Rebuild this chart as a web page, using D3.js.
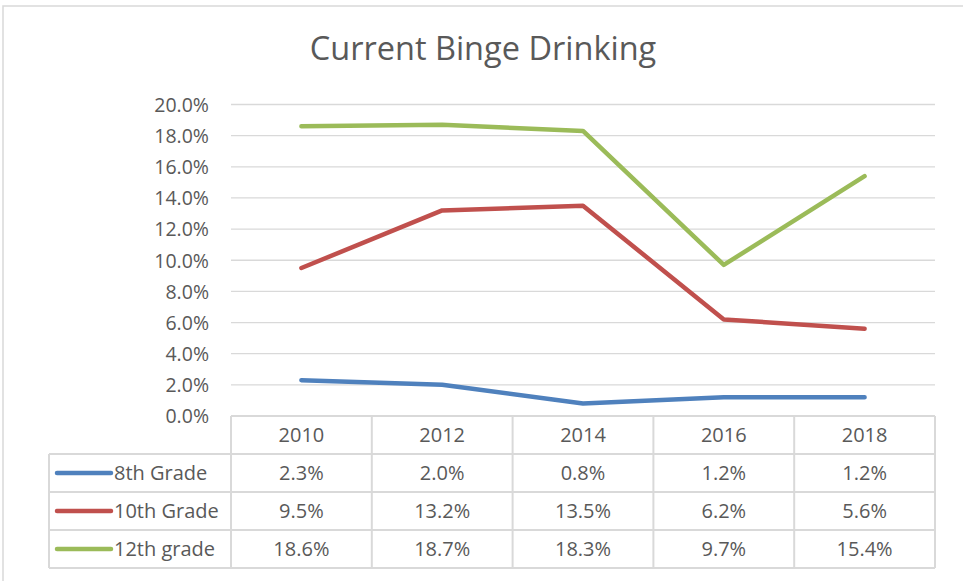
<!DOCTYPE html>
<html><head><meta charset="utf-8">
<script src="https://cdn.jsdelivr.net/npm/d3@7"></script>
<style>
html,body{margin:0;padding:0;background:#fff;}
svg{display:block;font-family:"Open Sans",Lato,sans-serif;}
</style></head>
<body><svg id="c" width="963" height="581"></svg>
<script>
const years = ["2010","2012","2014","2016","2018"];
const seriesNames = ["8th Grade","10th Grade","12th grade"];
const grade8 = [0.023,0.020,0.008,0.012,0.012];
const grade10 = [0.095,0.132,0.135,0.062,0.056];
const grade12 = [0.186,0.187,0.183,0.097,0.154];
const yTicks = [0,0.02,0.04,0.06,0.08,0.10,0.12,0.14,0.16,0.18,0.20];
const title = "Current Binge Drinking";

const series = [
  {name: seriesNames[0], values: grade8, color: "#4f81bd"},
  {name: seriesNames[1], values: grade10, color: "#c0504d"},
  {name: seriesNames[2], values: grade12, color: "#9bbb59"}
];

const svg = d3.select("#c");
const textColor = "#595959", gridColor = "#d9d9d9";
const FONT = "'Open Sans',sans-serif";

// chart border
svg.append("rect").attr("x",3).attr("y",6).attr("width",980).attr("height",600)
  .attr("fill","none").attr("stroke",gridColor).attr("stroke-width",1.5);

// title
svg.append("text").attr("x",483).attr("y",60).attr("text-anchor","middle")
  .attr("fill",textColor).attr("font-size",32.5).attr("font-family",FONT).text(title);

const x = d3.scaleBand().domain(years).range([231,935]).padding(0);
const y = d3.scaleLinear().domain([0,0.2]).range([416,104.5]);

// gridlines
svg.append("g").selectAll("line").data(yTicks.slice(1)).join("line")
  .attr("x1",231).attr("x2",935).attr("y1",d=>y(d)).attr("y2",d=>y(d))
  .attr("stroke",gridColor).attr("stroke-width",1.3);

// y axis
const yAxis = svg.append("g").attr("transform","translate(209,0)")
  .call(d3.axisLeft(y).tickValues(yTicks).tickFormat(d3.format(".1%")).tickSize(0).tickPadding(0));
yAxis.select(".domain").remove();
yAxis.selectAll("text").attr("fill",textColor).attr("font-size",19.5).attr("font-family",FONT).attr("dy","0.35em");

// lines
const line = d3.line().x((d,i)=>x(years[i])+x.bandwidth()/2).y(d=>y(d));
svg.append("g").selectAll("path").data(series).join("path")
  .attr("d",d=>line(d.values)).attr("fill","none").attr("stroke",d=>d.color)
  .attr("stroke-width",4.5).attr("stroke-linejoin","round").attr("stroke-linecap","round");

// data table
const rows = d3.scaleBand().domain(["header"].concat(seriesNames)).range([416,568]);
const tbl = svg.append("g");
const legendLeft = 49;
tbl.append("line").attr("x1",231).attr("x2",935).attr("y1",416).attr("y2",416);
seriesNames.forEach(n=>{
  tbl.append("line").attr("x1",legendLeft).attr("x2",935).attr("y1",rows(n)).attr("y2",rows(n));
});
tbl.append("line").attr("x1",legendLeft).attr("x2",935).attr("y1",568).attr("y2",568);
years.forEach(yr=>{
  tbl.append("line").attr("x1",x(yr)).attr("x2",x(yr)).attr("y1",416).attr("y2",568);
});
tbl.append("line").attr("x1",935).attr("x2",935).attr("y1",416).attr("y2",568);
tbl.append("line").attr("x1",legendLeft).attr("x2",legendLeft).attr("y1",rows(seriesNames[0])).attr("y2",568);
tbl.selectAll("line").attr("stroke",gridColor).attr("stroke-width",2);

const fs = 20;
tbl.selectAll("text.hdr").data(years).join("text").attr("class","hdr")
  .attr("x",d=>x(d)+x.bandwidth()/2).attr("y",rows("header")+rows.bandwidth()/2)
  .attr("dy","0.36em").attr("text-anchor","middle").attr("fill",textColor).attr("font-size",fs).attr("font-family",FONT).text(d=>d);
const fmt = d3.format(".1%");
series.forEach(s=>{
  const cy = rows(s.name)+rows.bandwidth()/2;
  tbl.append("line").attr("x1",57).attr("x2",111).attr("y1",cy).attr("y2",cy)
    .attr("stroke",s.color).attr("stroke-width",4.5).attr("stroke-linecap","round");
  tbl.append("text").attr("x",114).attr("y",cy).attr("dy","0.36em").attr("fill",textColor)
    .attr("font-size",fs).attr("font-family",FONT).text(s.name);
  tbl.append("g").selectAll("text").data(s.values).join("text")
    .attr("x",(d,i)=>x(years[i])+x.bandwidth()/2).attr("y",cy).attr("dy","0.36em")
    .attr("text-anchor","middle").attr("fill",textColor).attr("font-size",fs).attr("font-family",FONT).text(d=>fmt(d));
});
</script></body></html>
